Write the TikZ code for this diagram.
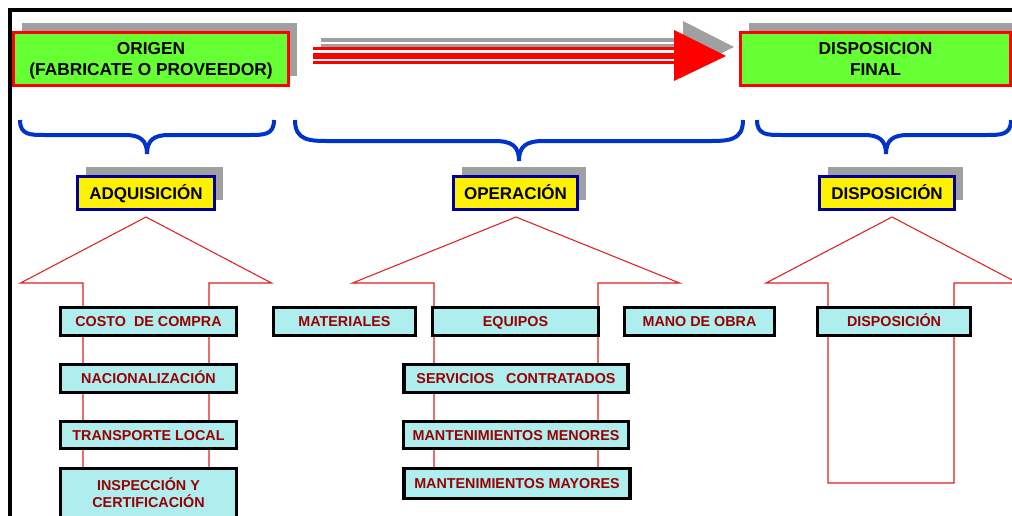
\documentclass[tikz,border=0pt]{standalone}
\usepackage{fontspec}
\setmainfont{Liberation Sans}
\usetikzlibrary{shadows}
\definecolor{gfill}{HTML}{66FF33}
\definecolor{shgray}{HTML}{A0A0A0}
\definecolor{navy}{HTML}{000099}
\definecolor{cyanf}{HTML}{AFEEEE}
\definecolor{dred}{HTML}{990000}
\definecolor{braceblue}{HTML}{0033CC}
\definecolor{arrred}{HTML}{E02020}
\begin{document}
\begin{tikzpicture}[x=0.75pt,y=-0.75pt,
  shad/.style={drop shadow={shadow xshift=6.4pt,shadow yshift=7pt,fill=shgray,opacity=1}},
  greenbox/.style={shad,draw=red,fill=gfill,line width=2.25pt,inner sep=0pt,align=center,
    font=\bfseries\fontsize{13}{15.75}\selectfont,minimum height=53*0.75pt,text depth=-3.3pt},
  yellowbox/.style={shad,draw=navy,fill=yellow,line width=2.25pt,inner sep=0pt,
    font=\bfseries\fontsize{12.75}{15}\selectfont,minimum height=33*0.75pt,
    text height=9.1pt,text depth=0pt},
  cyanbox/.style={draw=black,fill=cyanf,line width=2.6pt,inner sep=0pt,align=center,text=dred,
    font=\bfseries\fontsize{10.75}{12.75}\selectfont,minimum height=27.5*0.75pt},
  cyanone/.style={cyanbox,text height=7.7pt,text depth=0pt},
  bracepath/.style={draw=braceblue,line width=3pt},
  outarrow/.style={draw=arrred,line width=0.8pt,fill=white},
  redline/.style={draw=red},
  grayline/.style={draw=shgray}
]
\useasboundingbox (0,0) rectangle (1012,515);
% frame
\draw[line width=2.6pt] (10,520) -- (10,10) -- (1020,10);

% big arrow (shadow then red)
\draw[grayline,line width=2.7pt] (321,39.8) -- (683,39.8);
\draw[grayline,line width=4.5pt] (321,47.2) -- (683,47.2);
\fill[shgray] (683,21) -- (734,47) -- (683,72) -- cycle;
\draw[redline,line width=2.5pt] (313,48.3) -- (675,48.3);
\draw[redline,line width=4.5pt] (313,55.7) -- (675,55.7);
\draw[redline,line width=2.7pt] (313,62.5) -- (675,62.5);
\fill[red] (674,30) -- (726,56) -- (674,81) -- cycle;

% top boxes
\node[greenbox,minimum width=275*0.75pt] (origen) at (151,59) {ORIGEN\\(FABRICATE O PROVEEDOR)};
\node[greenbox,minimum width=270*0.75pt] (final) at (875.5,59) {DISPOSICION\\FINAL};

% braces
\draw[bracepath] (20,120) .. controls (20,135) and (30,135) .. (45,135) -- (125,135)
  .. controls (140,135) and (147,140) .. (147,154)
  .. controls (147,140) and (154,135) .. (169,135) -- (249,135)
  .. controls (264,135) and (274,135) .. (274,120);
\draw[bracepath] (295,120) .. controls (295,141) and (310,141) .. (330,141) -- (494,141)
  .. controls (512,141) and (519,146) .. (519,161)
  .. controls (519,146) and (526,141) .. (544,141) -- (708,141)
  .. controls (728,141) and (743,141) .. (743,120);
\draw[bracepath] (757,120) .. controls (757,135) and (767,135) .. (782,135) -- (864,135)
  .. controls (879,135) and (886,140) .. (886,154)
  .. controls (886,140) and (893,135) .. (908,135) -- (986,135)
  .. controls (1001,135) and (1011,135) .. (1011,120);

% category labels
\node[yellowbox,minimum width=137*0.75pt] (adq) at (146,193) {ADQUISICIÓN};
\node[yellowbox,minimum width=124*0.75pt] (oper) at (515.5,193) {OPERACIÓN};
\node[yellowbox,minimum width=135*0.75pt] (disp) at (887,193) {DISPOSICIÓN};

% outline arrows
\draw[outarrow] (146,217) -- (271.5,283) -- (209,283) -- (209,505) -- (83,505) -- (83,283) -- (20.5,283) -- cycle;
\draw[outarrow] (516,217) -- (679.5,283) -- (598,283) -- (598,490) -- (434,490) -- (434,283) -- (352.5,283) -- cycle;
\draw[outarrow] (892,217) -- (1018,283) -- (954,283) -- (954,483) -- (828,483) -- (828,283) -- (766,283) -- cycle;

% items
\node[cyanone,minimum width=175.5*0.75pt] (costo) at (148.5,321.5) {COSTO\ \ DE COMPRA};
\node[cyanone,minimum width=175.5*0.75pt] (nacio) at (148.5,378.5) {NACIONALIZACIÓN};
\node[cyanone,minimum width=175.5*0.75pt] (transp) at (148.5,435) {TRANSPORTE LOCAL};
\node[cyanbox,minimum width=175.5*0.75pt,minimum height=49*0.75pt] (insp) at (148.5,493) {INSPECCIÓN Y\\CERTIFICACIÓN};

\node[cyanone,minimum width=141.5*0.75pt] (mater) at (344.5,321.5) {MATERIALES};
\node[cyanone,minimum width=165.5*0.75pt] (equip) at (515.5,321.5) {EQUIPOS};
\node[cyanone,minimum width=149.5*0.75pt] (mano) at (699.5,321.5) {MANO DE OBRA};
\node[cyanone,minimum width=224*0.75pt] (serv) at (516,378.5) {SERVICIOS\ \ \ CONTRATADOS};
\node[cyanone,minimum width=225*0.75pt] (menor) at (516,435) {MANTENIMIENTOS MENORES};
\node[cyanone,minimum width=226*0.75pt,minimum height=29.5*0.75pt] (mayor) at (517,483.5) {MANTENIMIENTOS MAYORES};

\node[cyanone,minimum width=152.5*0.75pt] (dispc) at (894,321.5) {DISPOSICIÓN};
\end{tikzpicture}
\end{document}
